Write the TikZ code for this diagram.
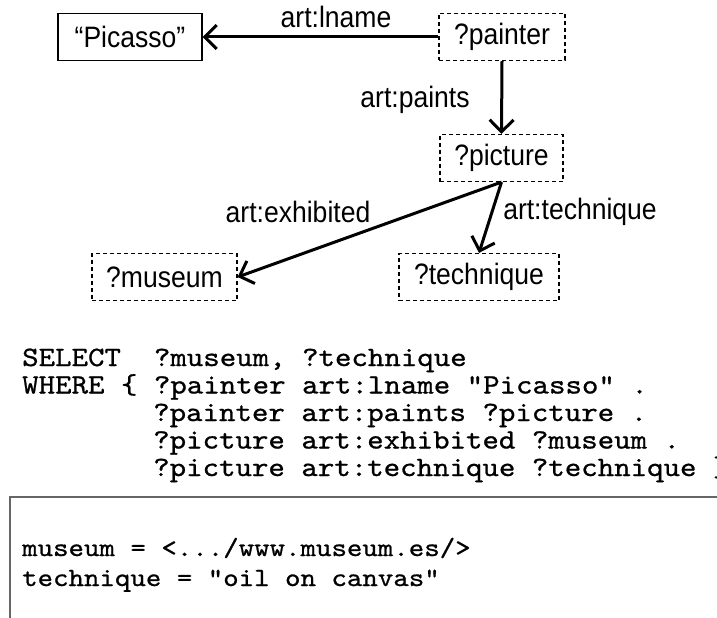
\documentclass[tikz,border=0pt]{standalone}
\usepackage{fontspec}
\setmainfont{Liberation Sans}[FakeStretch=0.9]
\newfontfamily\codefont{lmmono10-regular.otf}[FakeStretch=1.12, FakeBold=0.8]
\usetikzlibrary{arrows.meta}

\tikzset{
  termbox/.style={draw=black, line width=1.2pt, minimum height=47pt,
    inner sep=0pt, font=\fontsize{29.5}{32}\selectfont},
  varbox/.style={termbox, dashed, dash pattern=on 4pt off 3pt},
  rel/.style={line width=3pt, -{Straight Barb[length=12pt,width=24pt]}},
  rellabel/.style={font=\fontsize{29.5}{32}\selectfont, inner sep=0pt},
  codeline/.style={font=\codefont\fontsize{28}{30}\selectfont, anchor=base west, inner sep=0pt},
  resultline/.style={font=\codefont\fontsize{26.3}{30}\selectfont, anchor=base west, inner sep=0pt}
}

\begin{document}
\frenchspacing
\begin{tikzpicture}[x=1pt,y=-1pt]
  \useasboundingbox (0,0) rectangle (717,618);
  \clip (0,0) rectangle (717,618);

  % query graph
  \node[termbox, minimum width=144pt] (picasso)   at (130,37) {“Picasso”};
  \node[varbox,  minimum width=126pt] (painter)   at (502,37) {?painter};
  \node[varbox,  minimum width=123pt] (picture)   at (501.5,158) {?picture};
  \node[varbox,  minimum width=145pt] (museum)    at (164.5,277) {?museum};
  \node[varbox,  minimum width=160pt] (technique) at (479,277) {?technique};

  \draw[rel] (painter.west) -- (picasso.east);
  \draw[rel] (painter.south) -- (picture.north);
  \draw[rel] (picture.south) -- (museum.east);
  \draw[rel] (picture.south) -- (technique.north);

  \node[rellabel] (lname)     at (336,17)  {art:lname};
  \node[rellabel] (paints)    at (415,100) {art:paints};
  \node[rellabel] (exhibited) at (298,212) {art:exhibited};
  \node[rellabel] (techrel)   at (580,212) {art:technique};

  % SPARQL query text
  \node[codeline] (q1) at (22,366)   {SELECT\ \ ?museum, ?technique};
  \node[codeline] (q2) at (22,393.5) {WHERE \{ ?painter art:lname "Picasso" .};
  \node[codeline] (q3) at (153,421)  {?painter art:paints ?picture .};
  \node[codeline] (q4) at (153,448.5){?picture art:exhibited ?museum .};
  \node[codeline] (q5) at (153,476)  {?picture art:technique ?technique \}};

  % result panel
  \draw[draw=black!60, line width=1.3pt] (10,700) -- (10,497) -- (760,497);
  \node[resultline] (r1) at (22,556) {museum = <.../www.museum.es/>};
  \node[resultline] (r2) at (22,586) {technique = "oil on canvas”};
\end{tikzpicture}
\end{document}
